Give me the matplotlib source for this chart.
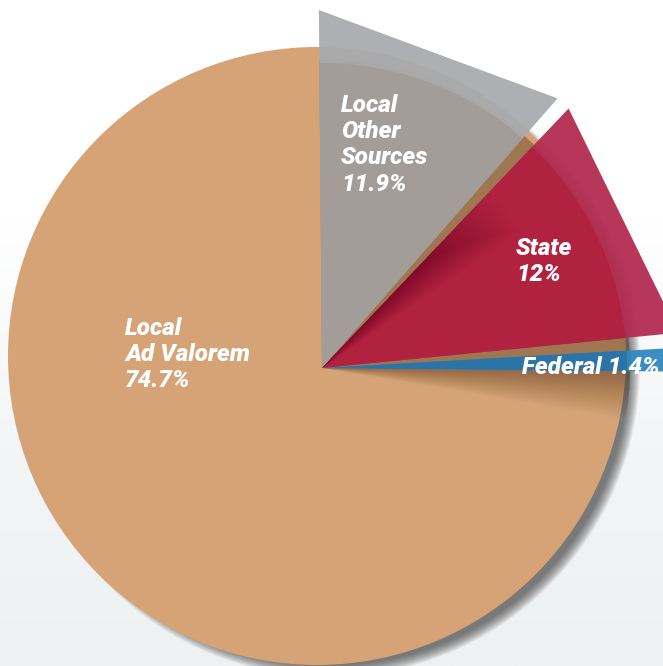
import numpy as np
import matplotlib.pyplot as plt
from matplotlib.colors import LinearSegmentedColormap
from matplotlib.patches import Wedge, Circle, Polygon

# revenue shares in percent
labels = ['Local\nOther\nSources\n11.9%', 'State\n12%', 'Federal 1.4%', 'Local\nAd Valorem\n74.7%']
shares = [11.9, 12.0, 1.4, 74.7]
inner_colors = ['#a29d99', '#b12240', '#2a74a8', '#d5a376']
outer_colors = ['#a9abae', '#b32c52', '#3188c2', '#d5a376']

W, H = 663, 666
center = (322, 298)      # apex of the small slices (pixel units, y up)
tan_center = (317, 310)  # the big disc sits a touch higher
radius = 309
outer_r = 358
start = 90.5
gap = 2.4

fig = plt.figure(figsize=(W / 100, H / 100), dpi=100)
ax = fig.add_axes([0, 0, 1, 1])
ax.set_xlim(0, W)
ax.set_ylim(0, H)
ax.set_aspect('equal')
ax.axis('off')

# soft background: white on top fading to pale grey
grad = np.linspace(0, 1, 256).reshape(-1, 1)
bg = LinearSegmentedColormap.from_list('bg', ['#eef1f2', '#f3f5f6', '#ffffff', '#ffffff'])
ax.imshow(grad, extent=[0, W, 0, H], cmap=bg, origin='lower', aspect='auto', zorder=0)

# drop shadow of the disc, toward the lower right
for k in range(12):
    ax.add_patch(Circle((tan_center[0] + 12, tan_center[1] - 10), radius + 2 - k,
                        color='#2a2a2a', alpha=0.07, lw=0, zorder=1))
ax.add_patch(Circle(tan_center, radius, color=inner_colors[3], lw=0, zorder=2))

# angles of the three small slices, clockwise from the start angle
spans = np.array(shares) * 3.6
theta1 = start - np.cumsum(spans)
theta2 = theta1 + spans

# darker shading on the disc under the small slices, fading out below
ax.add_patch(Wedge(center, radius - 1, theta1[2], theta2[0], color='#4a2e18',
                   alpha=0.38, lw=0, zorder=3))
for k in range(30):
    ax.add_patch(Wedge(center, radius - 1, theta1[2] - 0.3 * (k + 1), theta1[2],
                       color='#4a2e18', alpha=0.014, lw=0, zorder=3))

for i in range(3):
    a1 = theta1[i] + (0 if i == 2 else gap / 2)
    a2 = theta2[i] - (0 if i == 0 else gap / 2)
    # translucent triangular extension beyond the disc
    t = np.radians([a1, a2])
    pts = [center,
           (center[0] + outer_r * np.cos(t[0]), center[1] + outer_r * np.sin(t[0])),
           (center[0] + outer_r * np.cos(t[1]), center[1] + outer_r * np.sin(t[1]))]
    ax.add_patch(Polygon(pts, closed=True, color=outer_colors[i], alpha=0.95, lw=0, zorder=4))
    ax.add_patch(Wedge(center, radius - 4, a1, a2, color=inner_colors[i], lw=0, zorder=5))

# shading inside the state slice along its upper edge, near the centre
top = theta2[1] - gap / 2
for k in range(24):
    ax.add_patch(Wedge(center, 150 + 4 * k, top - 0.5 * (k + 1), top,
                       color='#4e0a1c', alpha=0.02, lw=0, zorder=6))

txt = dict(color='white', fontsize=17.5, fontweight='black', fontstyle='italic',
           family=['Roboto', 'DejaVu Sans'], linespacing=1.18, zorder=10)
ax.text(341, H - 94, labels[0], ha='left', va='top', **txt)
ax.text(516, H - 237, labels[1], ha='left', va='top', **txt)
ax.text(660, H - 368, labels[2], ha='right', va='center', **txt)
ax.text(125, H - 317, labels[3], ha='left', va='top', **txt)

fig.savefig('out.png', dpi=100)
